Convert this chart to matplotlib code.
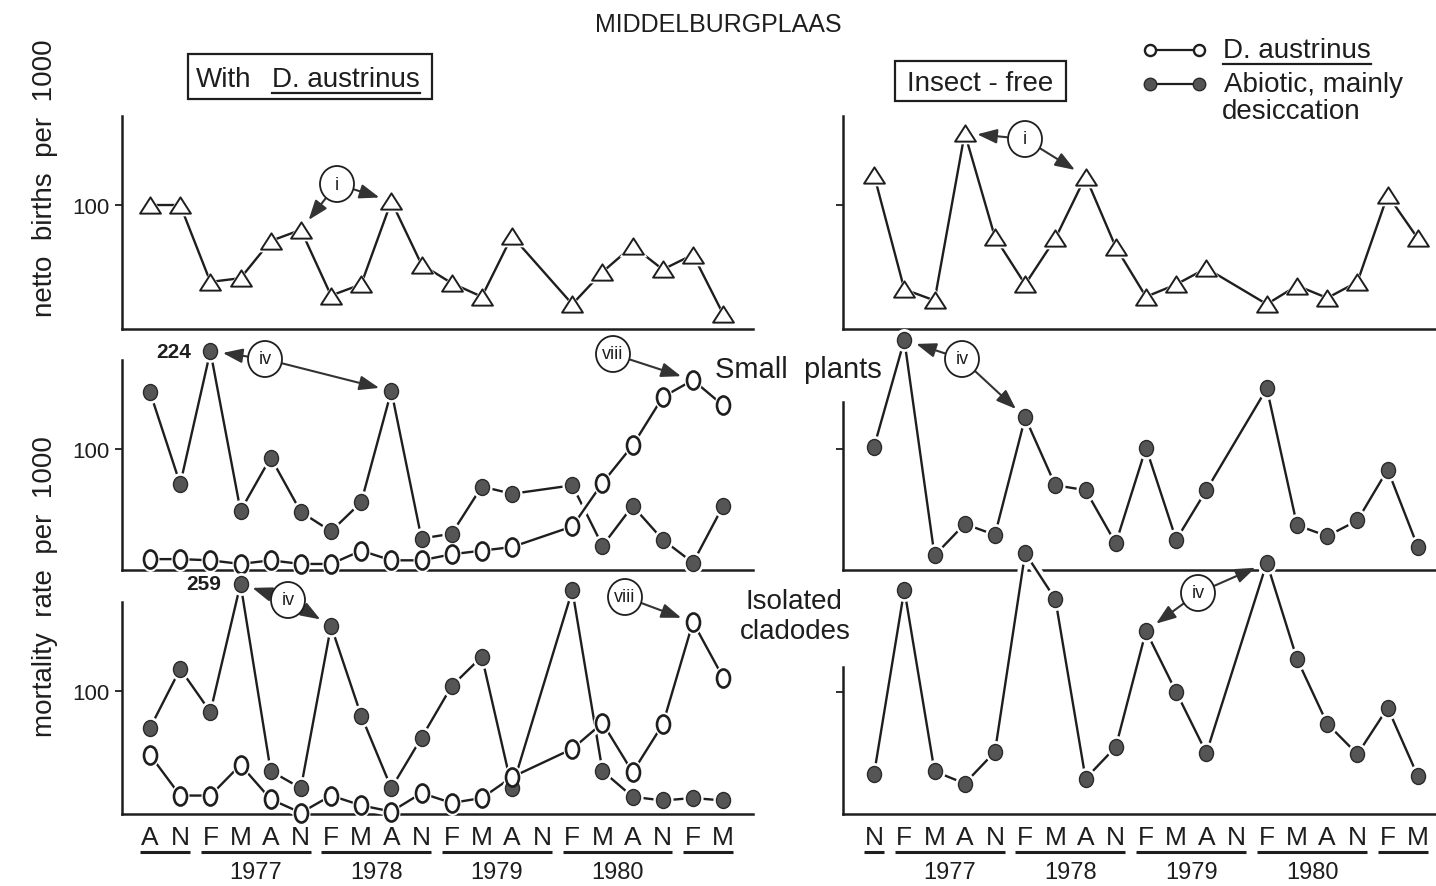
import numpy as np
import matplotlib
matplotlib.use("Agg")
import matplotlib.pyplot as plt
import matplotlib.patheffects as pe
from matplotlib.path import Path
from matplotlib.transforms import Affine2D, blended_transform_factory
from matplotlib.patches import Ellipse, Rectangle
from matplotlib.lines import Line2D
from matplotlib.ticker import NullLocator

plt.rcParams['font.family'] = ['Liberation Sans', 'DejaVu Sans']

# ---------------------------------------------------------------- data
nan = np.nan

months_left = ['A', 'N', 'F', 'M', 'A', 'N', 'F', 'M', 'A', 'N',
               'F', 'M', 'A', 'N', 'F', 'M', 'A', 'N', 'F', 'M']
years_left = [1976, 1976, 1977, 1977, 1977, 1977, 1978, 1978, 1978, 1978,
              1979, 1979, 1979, 1979, 1980, 1980, 1980, 1980, 1981, 1981]
months_right = ['N', 'F', 'M', 'A', 'N', 'F', 'M', 'A', 'N', 'F',
                'M', 'A', 'N', 'F', 'M', 'A', 'N', 'F', 'M']
years_right = [1976, 1977, 1977, 1977, 1977, 1978, 1978, 1978, 1978, 1979,
               1979, 1979, 1979, 1980, 1980, 1980, 1980, 1981, 1981]
year_labels = ['1977', '1978', '1979', '1980']

# netto births per 1000
births_with = [100, 100, 38, 41, 71, 80, 27, 36, 103, 52,
               37, 26, 75, nan, 20, 46, 67, 48, 60, 12]
births_free = [124, 32, 23, 158, 74, 36, 73, 123, 66, 26,
               36, 49, nan, 20, 35, 25, 38, 108, 73]

# mortality rate per 1000, small plants
small_austrinus = [9, 9, 8, 5, 8, 5, 5, 16, 8, 8,
                   13, 16, 19, nan, 36, 72, 103, 143, 157, 136]
small_abiotic_with = [147, 71, 224, 49, 93, 48, 32, 56, 148, 26,
                      30, 69, 63, nan, 70, 20, 53, 25, 6, 53]
small_abiotic_free = [102, 190, 12, 38, 29, 126, 70, 66, 22, 101,
                      25, 66, nan, 150, 37, 28, 41, 83, 19]

# mortality rate per 1000, isolated cladodes
clad_austrinus = [48, 15, 15, 40, 12, 1, 15, 7, 2, 17,
                  9, 13, 30, nan, 53, 74, 34, 73, 156, 111]
clad_abiotic_with = [70, 118, 83, 259, 35, 21, 153, 80, 21, 62,
                     104, 128, 21, nan, 182, 35, 14, 11, 13, 11]
clad_abiotic_free = [33, 184, 35, 25, 51, 214, 176, 29, 55, 150,
                     100, 50, nan, 206, 127, 74, 49, 87, 31]

# ---------------------------------------------------------------- style
W, H = 1436, 887
INK = '#1e1e1e'
DOT = '#555555'
FONT_BIG = 20

fig = plt.figure(figsize=(W / 100, H / 100), dpi=100)
fig.patch.set_facecolor('white')


def fx(x):
    return x / W


def fy(y):
    return 1 - y / H


dot_marker = Path.unit_circle().transformed(Affine2D().scale(0.88, 1.0))
ring_marker = Path.unit_circle().transformed(Affine2D().scale(0.72, 1.0))
tri_marker = Path([(0, 0.78), (-1, -0.78), (1, -0.78), (0, 0.78)],
                  [Path.MOVETO, Path.LINETO, Path.LINETO, Path.CLOSEPOLY])


def compressed(t, k):
    """Linear up to t, squeezed by factor k above it (off-scale peaks)."""
    def fwd(v):
        v = np.asarray(v, float)
        return np.where(v <= t, v, t + (v - t) * k)

    def inv(u):
        u = np.asarray(u, float)
        return np.where(u <= t, u, t + (u - t) / k)
    return fwd, inv


def make_axes(x0, x1, top, bottom, ymax, xlim, labelled, scale=None):
    ax = fig.add_axes([fx(x0), fy(bottom), (x1 - x0) / W, (bottom - top) / H])
    ax.set_facecolor('none')
    if scale is not None:
        ax.set_yscale('function', functions=scale)
    ax.set_ylim(0, ymax)
    ax.set_xlim(*xlim)
    for s in ('top', 'right'):
        ax.spines[s].set_visible(False)
    for s in ('left', 'bottom'):
        ax.spines[s].set_linewidth(1.8)
        ax.spines[s].set_color(INK)
    ax.set_xticks([])
    ax.set_yticks([100])
    ax.yaxis.set_minor_locator(NullLocator())
    ax.tick_params(axis='y', direction='out', length=5, width=1.3,
                   colors=INK, labelsize=16, pad=4)
    if not labelled:
        ax.set_yticklabels([])
    return ax


def draw_series(ax, values, kind):
    v = np.asarray(values, float)
    x = np.arange(len(v))
    ok = ~np.isnan(v)
    ax.plot(x[ok], v[ok], color=INK, lw=1.7, zorder=3, clip_on=False,
            path_effects=[pe.Stroke(linewidth=7, foreground='white'), pe.Normal()])
    if kind == 'tri':
        m, ms, fc, ec, mew = tri_marker, 15, 'white', INK, 1.4
    elif kind == 'ring':
        m, ms, fc, ec, mew = ring_marker, 13, 'white', INK, 1.9
    else:
        m, ms, fc, ec, mew = dot_marker, 11.5, DOT, '#2a2a2a', 1.0
    ax.plot(x[ok], v[ok], ls='none', marker=m, ms=ms + 5, mfc='white',
            mec='white', mew=0, zorder=4, clip_on=False)
    ax.plot(x[ok], v[ok], ls='none', marker=m, ms=ms, mfc=fc, mec=ec,
            mew=mew, zorder=5, clip_on=False)


def month_axis(ax, months, years, y_lab=838, y_line=853, y_year=873):
    tr = blended_transform_factory(ax.transData, fig.transFigure)
    for i, m in enumerate(months):
        ax.text(i, fy(y_lab), m, transform=tr, ha='center', va='center',
                fontsize=19, color=INK)
    # underline each calendar year, label the complete ones
    start = 0
    for i in range(1, len(years) + 1):
        if i == len(years) or years[i] != years[start]:
            ax.plot([start - 0.32, i - 1 + 0.32], [fy(y_line)] * 2, transform=tr,
                    color=INK, lw=2.2, clip_on=False, solid_capstyle='butt')
            label = str(years[start])
            if label in year_labels:
                ax.text((start + i - 1) / 2, fy(y_year), label, transform=tr,
                        ha='center', va='center', fontsize=17, color=INK)
            start = i


left_xlim = (-0.93, 19.99)
right_xlim = (-1.03, 18.6)

# ---------------------------------------------------------------- panels
ax_tl = make_axes(122, 753, 117, 330, 171.8, left_xlim, True)
ax_tr = make_axes(843, 1436, 117, 330, 171.8, right_xlim, False)
ax_ml = make_axes(122, 753, 361, 571, 173.6, left_xlim, True,
                  scale=compressed(175, 0.12))
ax_mr = make_axes(843, 1436, 403, 571, 138.8, right_xlim, False)
ax_bl = make_axes(122, 753, 603, 815, 172.4, left_xlim, True,
                  scale=compressed(183, 0.055))
ax_br = make_axes(843, 1436, 668, 815, 120.5, right_xlim, False)

draw_series(ax_tl, births_with, 'tri')
draw_series(ax_tr, births_free, 'tri')
draw_series(ax_ml, small_abiotic_with, 'dot')
draw_series(ax_ml, small_austrinus, 'ring')
draw_series(ax_mr, small_abiotic_free, 'dot')
draw_series(ax_bl, clad_abiotic_with, 'dot')
draw_series(ax_bl, clad_austrinus, 'ring')
draw_series(ax_br, clad_abiotic_free, 'dot')

month_axis(ax_bl, months_left, years_left)
month_axis(ax_br, months_right, years_right)

# ---------------------------------------------------------------- circled notes
def note(label, cx, cy, targets):
    fig.patches.append(Ellipse((fx(cx), fy(cy)), 34 / W, 36 / H,
                               transform=fig.transFigure, fc='white',
                               ec=INK, lw=1.3, zorder=6))
    fig.text(fx(cx), fy(cy), label, ha='center', va='center',
             fontsize=13, color=INK, zorder=7)
    for ax, series, idx in targets:
        ax.annotate('', xy=(idx, series[idx]), xycoords='data',
                    xytext=(fx(cx), fy(cy)), textcoords='figure fraction',
                    arrowprops=dict(arrowstyle='-|>,head_length=0.6,head_width=0.22',
                                    mutation_scale=20, lw=1.5, color='#333333',
                                    shrinkA=13, shrinkB=9),
                    annotation_clip=False, zorder=6)


note('i', 337, 185, [(ax_tl, births_with, 5), (ax_tl, births_with, 8)])
note('i', 1025, 140, [(ax_tr, births_free, 3), (ax_tr, births_free, 7)])
note('iv', 265, 360, [(ax_ml, small_abiotic_with, 2), (ax_ml, small_abiotic_with, 8)])
note('viii', 613, 355, [(ax_ml, small_austrinus, 18)])
note('iv', 962, 360, [(ax_mr, small_abiotic_free, 1), (ax_mr, small_abiotic_free, 5)])
note('iv', 288, 601, [(ax_bl, clad_abiotic_with, 3), (ax_bl, clad_abiotic_with, 6)])
note('viii', 625, 598, [(ax_bl, clad_austrinus, 18)])
note('iv', 1198, 594, [(ax_br, clad_abiotic_free, 9), (ax_br, clad_abiotic_free, 13)])

# off-scale values written beside their points
ax_ml.annotate(f'{small_abiotic_with[2]:.0f}', xy=(2, small_abiotic_with[2]),
               xytext=(-14, 0), textcoords='offset points', ha='right', va='center',
               fontsize=15, fontweight='bold', color=INK, annotation_clip=False)
ax_bl.annotate(f'{clad_abiotic_with[3]:.0f}', xy=(3, clad_abiotic_with[3]),
               xytext=(-14, 0), textcoords='offset points', ha='right', va='center',
               fontsize=15, fontweight='bold', color=INK, annotation_clip=False)

# ---------------------------------------------------------------- texts
fig.text(fx(718), fy(25), 'MIDDELBURGPLAAS', ha='center', va='center',
         fontsize=18, color=INK)
fig.text(fx(45), fy(178), 'netto  births  per  1000', rotation=90,
         ha='center', va='center', fontsize=FONT_BIG, color=INK)
fig.text(fx(45), fy(587), 'mortality  rate  per  1000', rotation=90,
         ha='center', va='center', fontsize=FONT_BIG, color=INK)
fig.text(fx(798), fy(370), 'Small  plants', ha='center', va='center',
         fontsize=21, color=INK)
fig.text(fx(794), fy(602), 'Isolated', ha='center', va='center',
         fontsize=FONT_BIG, color=INK)
fig.text(fx(795), fy(632), 'cladodes', ha='center', va='center',
         fontsize=FONT_BIG, color=INK)

# boxed panel headings
fig.patches.append(Rectangle((fx(188), fy(100)), (432 - 188) / W, 45 / H,
                             transform=fig.transFigure, fill=False, ec=INK, lw=1.6))
fig.text(fx(196), fy(80), 'With', ha='left', va='center', fontsize=FONT_BIG, color=INK)
t_box = fig.text(fx(272), fy(80), 'D. austrinus', ha='left', va='center',
                 fontsize=FONT_BIG, color=INK)
fig.patches.append(Rectangle((fx(895), fy(102)), (1066 - 895) / W, 40 / H,
                             transform=fig.transFigure, fill=False, ec=INK, lw=1.6))
fig.text(fx(980), fy(84), 'Insect - free', ha='center', va='center',
         fontsize=FONT_BIG, color=INK)

# key
fig.lines.append(Line2D([fx(1150), fx(1199)], [fy(51), fy(51)], transform=fig.transFigure,
                        color=INK, lw=1.6, marker='o', ms=8, mfc='white', mec=INK, mew=1.7))
t_key = fig.text(fx(1223), fy(51), 'D. austrinus', ha='left', va='center',
                 fontsize=FONT_BIG, color=INK)
fig.lines.append(Line2D([fx(1150), fx(1199)], [fy(85), fy(85)], transform=fig.transFigure,
                        color=INK, lw=1.6, marker='o', ms=9, mfc=DOT, mec='#2a2a2a', mew=1))
fig.text(fx(1224), fy(85), 'Abiotic, mainly', ha='left', va='center',
         fontsize=FONT_BIG, color=INK)
fig.text(fx(1222), fy(112), 'desiccation', ha='left', va='center',
         fontsize=FONT_BIG, color=INK)

# underline the species name wherever it is written
fig.canvas.draw()
renderer = fig.canvas.get_renderer()
for t in (t_box, t_key):
    bb = t.get_window_extent(renderer)
    y = (bb.y0 - 1) / H
    fig.lines.append(Line2D([bb.x0 / W, bb.x1 / W], [y, y], transform=fig.transFigure,
                            color=INK, lw=1.6))

fig.savefig('out.png', dpi=100, facecolor='white')
